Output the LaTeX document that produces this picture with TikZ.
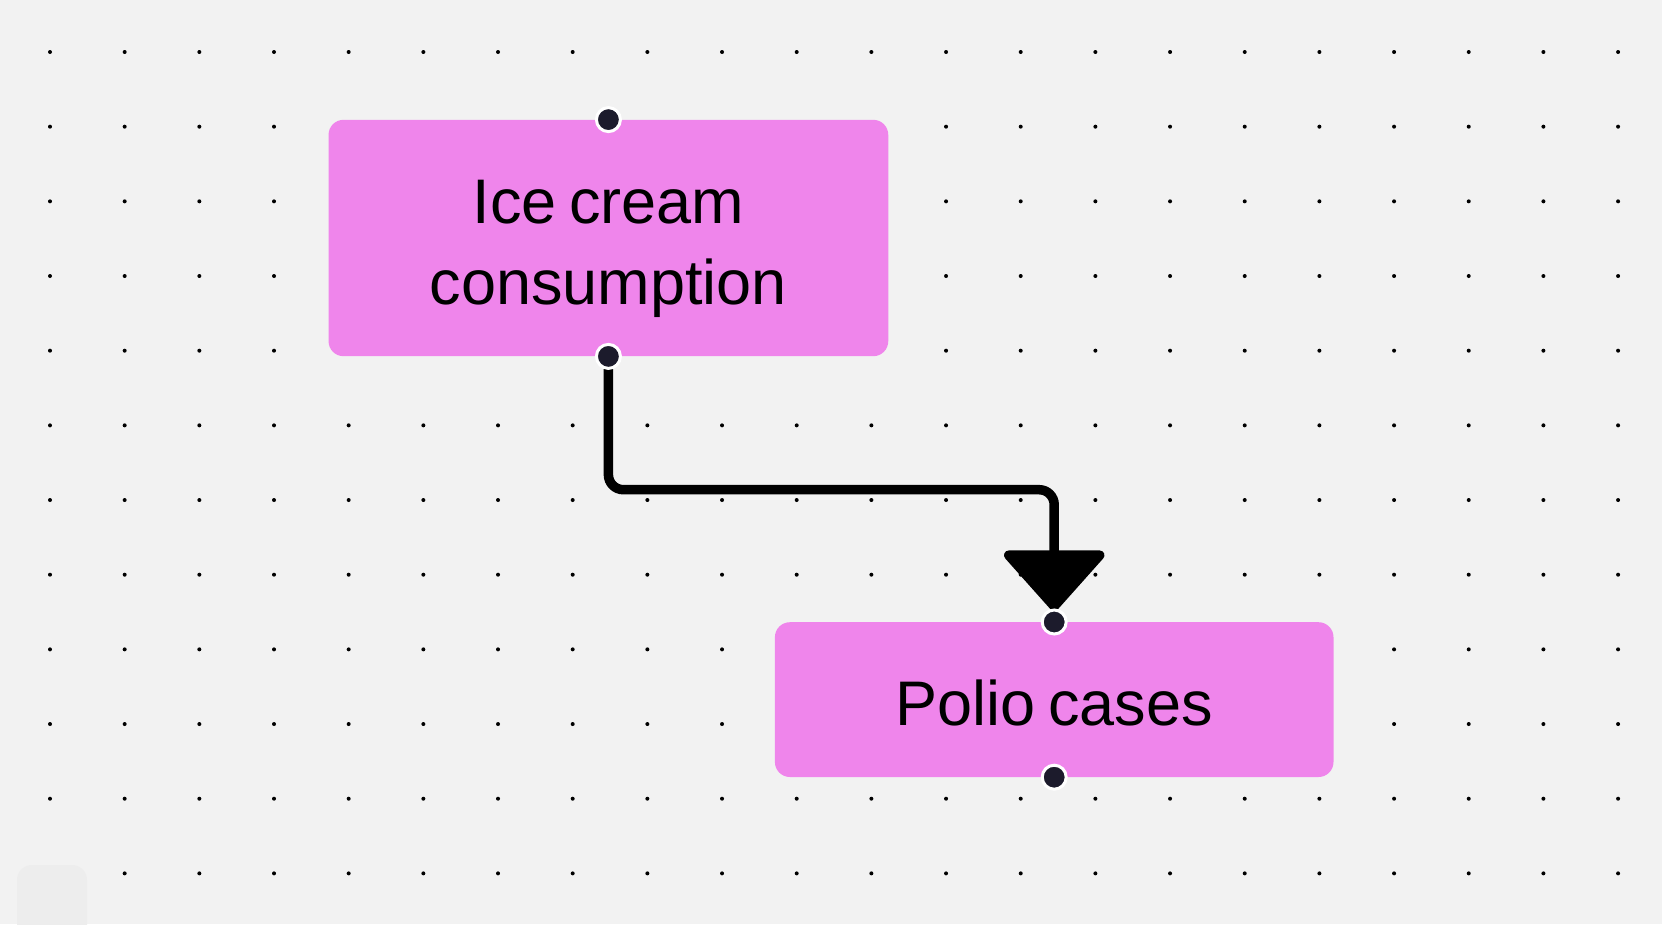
\documentclass[tikz,border=0pt]{standalone}
\usepackage{fontspec}
\setmainfont[WordSpace=0.7]{Liberation Sans}
\usetikzlibrary{arrows.meta}
\definecolor{bgc}{HTML}{F2F2F2}
\definecolor{pinkbox}{HTML}{EF85EB}
\definecolor{handle}{HTML}{1C1B2C}
\definecolor{ghost}{HTML}{EDEDED}
\tikzset{
  box/.style={rectangle, rounded corners=15pt, fill=pinkbox, draw=none, inner sep=0pt},
  lbl/.style={align=center, font=\fontsize{63}{81}\selectfont, text=black, inner sep=0pt},
  hdl/.style={circle, fill=handle, draw=white, line width=3pt, inner sep=0pt, minimum size=24pt},
  conn/.style={line width=9.5pt, rounded corners=15pt, line cap=round,
    -{Triangle[length=63pt, width=110pt, round]}, shorten >=11pt},
  griddot/.style={fill=black}
}
\begin{document}
\begin{tikzpicture}[x=1pt,y=-1pt]
\useasboundingbox (0,0) rectangle (1662,924);
\fill[bgc] (0,0) rectangle (1662,924);
\foreach \i in {0,...,21}{
  \foreach \j in {0,...,11}{
    \fill[griddot] (50+\i*74.67, 52+\j*74.67) circle (2pt);
  }
}
\fill[ghost, rounded corners=15pt] (17,865) rectangle (87,940);
\node[box, minimum width=559.7pt, minimum height=236.4pt] (ice) at (608.4,238) {};
\node[box, minimum width=558.6pt, minimum height=154.8pt] (polio) at (1054.2,699.6) {};
\node[lbl] (iceText) at ([yshift=-11pt]ice.center) {Ice cream\\consumption};
\node[lbl] (polioText) at ([yshift=-3pt]polio.center) {Polio cases};
\coordinate (elbow) at (1054.2,489.7);
\draw[conn] (ice.south) |- (elbow) -- (polio.north);
\node[hdl] (iceTop) at (ice.north) {};
\node[hdl] (iceBot) at (ice.south) {};
\node[hdl] (polioTop) at (polio.north) {};
\node[hdl] (polioBot) at (polio.south) {};
\end{tikzpicture}
\end{document}
